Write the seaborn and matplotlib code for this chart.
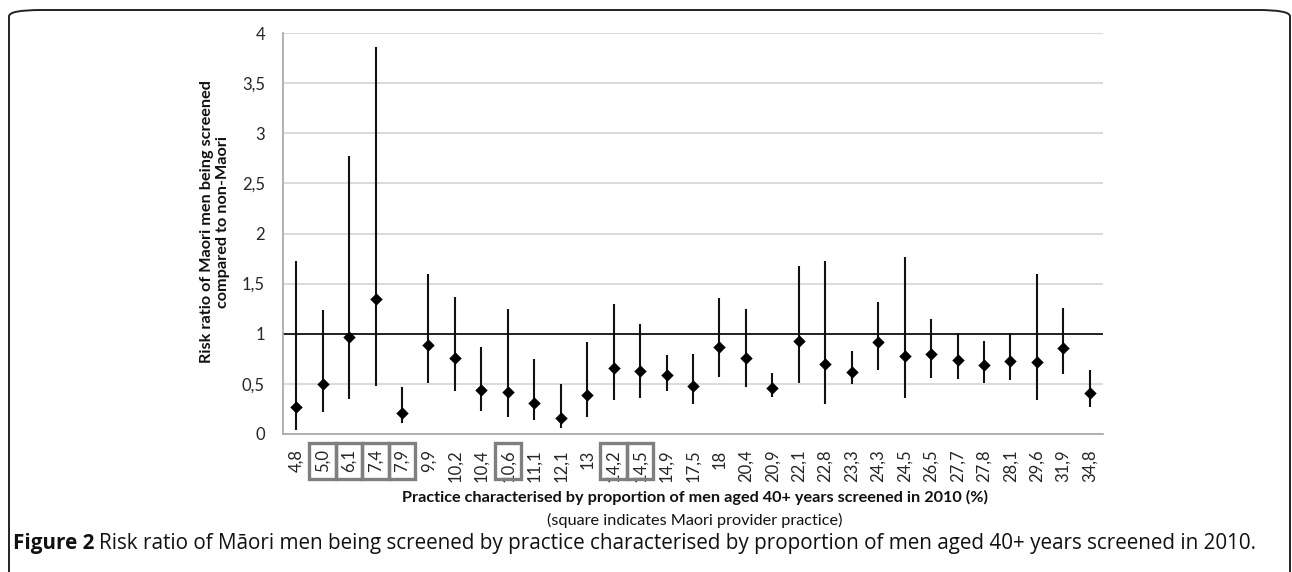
import matplotlib
matplotlib.use("Agg")
import matplotlib.pyplot as plt
import matplotlib.transforms as mtransforms
from matplotlib.patches import Rectangle, FancyBboxPatch
import seaborn as sns
import pandas as pd

categories = ["4,8", "5,0", "6,1", "7,4", "7,9", "9,9", "10,2", "10,4", "10,6", "11,1",
              "12,1", "13", "14,2", "14,5", "14,9", "17,5", "18", "20,4", "20,9", "22,1",
              "22,8", "23,3", "24,3", "24,5", "26,5", "27,7", "27,8", "28,1", "29,6", "31,9", "34,8"]
risk_ratio = [0.27, 0.50, 0.97, 1.35, 0.21, 0.89, 0.76, 0.44, 0.42, 0.31,
              0.16, 0.39, 0.66, 0.63, 0.59, 0.48, 0.87, 0.76, 0.46, 0.93,
              0.70, 0.62, 0.92, 0.78, 0.80, 0.74, 0.69, 0.73, 0.72, 0.86, 0.41]
ci_upper = [1.73, 1.24, 2.77, 3.86, 0.47, 1.60, 1.37, 0.87, 1.25, 0.75,
            0.50, 0.92, 1.30, 1.10, 0.79, 0.80, 1.36, 1.25, 0.61, 1.68,
            1.73, 0.83, 1.32, 1.77, 1.15, 1.01, 0.93, 1.01, 1.60, 1.26, 0.64]
ci_lower = [0.04, 0.22, 0.35, 0.48, 0.11, 0.51, 0.43, 0.23, 0.17, 0.14,
            0.06, 0.17, 0.34, 0.36, 0.43, 0.30, 0.57, 0.47, 0.37, 0.51,
            0.30, 0.50, 0.64, 0.36, 0.56, 0.55, 0.51, 0.54, 0.34, 0.60, 0.27]
maori_provider = ["5,0", "6,1", "7,4", "7,9", "10,6", "14,2", "14,5"]
y_ticks = [0, 0.5, 1, 1.5, 2, 2.5, 3, 3.5, 4]
y_tick_labels = ["0", "0,5", "1", "1,5", "2", "2,5", "3", "3,5", "4"]

df = pd.DataFrame({"practice": categories, "rr": risk_ratio,
                   "lo": ci_lower, "hi": ci_upper})

sns.set_theme(style="white")
plt.rcParams["font.family"] = ["Lato", "DejaVu Sans"]

W, H = 1292, 572
fig = plt.figure(figsize=(W / 100, H / 100), dpi=100)
ax = fig.add_axes([283 / W, 1 - 434 / H, (1103 - 283) / W, (434 - 33) / H])

# frame
frame = FancyBboxPatch((9 / W, -0.2), (1290 - 9) / W, (H - 10) / H + 0.2,
                       boxstyle="round,pad=0,rounding_size=0.025",
                       transform=fig.transFigure, fill=False,
                       edgecolor="#222222", linewidth=1.4, mutation_aspect=H / W)
fig.patches.append(frame)

ax.set_ylim(0, 4)
ax.set_yticks(y_ticks)
ax.set_yticklabels(y_tick_labels)
ax.yaxis.grid(True, color="#d4d4d4", linewidth=1.2)
ax.set_axisbelow(True)

ax.vlines(df["practice"], df["lo"], df["hi"], color="#111111", linewidth=1.5, zorder=3)
sns.scatterplot(data=df, x="practice", y="rr", marker="D", s=40, color="black",
                edgecolor="black", linewidth=0, ax=ax, zorder=4)
ax.set_xlim(-0.5, len(categories) - 0.5)
ax.axhline(1, color="#222222", linewidth=1.4, zorder=2)

for s in ["top", "right"]:
    ax.spines[s].set_visible(False)
for s in ["left", "bottom"]:
    ax.spines[s].set_color("#a6a6a6")
    ax.spines[s].set_linewidth(1.2)

ax.tick_params(axis="both", length=0, colors="#262626", labelsize=12)
ax.tick_params(axis="y", pad=13)
ax.tick_params(axis="x", pad=11)
for lab in ax.get_xticklabels():
    lab.set_rotation(90)
    lab.set_va("top")
    lab.set_ha("center")

ax.set_xlabel("")
ax.set_ylabel("")

# provider squares
trans = mtransforms.blended_transform_factory(ax.transData, ax.transAxes)
for p in maori_provider:
    i = categories.index(p)
    ax.add_patch(Rectangle((i - 0.5, -0.111), 1, 0.089, transform=trans, fill=False,
                           edgecolor="#7f7f7f", linewidth=2.4, clip_on=False, zorder=5))

fig.text(695 / W, 1 - 497 / H,
         "Practice characterised by proportion of men aged 40+ years screened in 2010 (%)",
         ha="center", va="center", fontsize=11.7, fontweight="bold", color="#111111")
fig.text(695 / W, 1 - 520 / H, "(square indicates Maori provider practice)",
         ha="center", va="center", fontsize=11.7, color="#111111")
fig.text(215 / W, 1 - 222 / H, "Risk ratio of Maori men being screened\ncompared to non-Maori",
         ha="center", va="center", rotation=90, fontsize=11.7, fontweight="bold",
         color="#111111", linespacing=1.2)

cap_y = 1 - 543 / H
t1 = fig.text(13 / W, cap_y, "Figure 2", ha="left", va="center", fontsize=14.9,
              fontweight="bold", family=["Open Sans", "DejaVu Sans"], color="#111111")
fig.canvas.draw()
bb = t1.get_window_extent()
fig.text((bb.x1 + 5) / W, cap_y,
         "Risk ratio of Māori men being screened by practice characterised by proportion of men aged 40+ years screened in 2010.",
         ha="left", va="center", fontsize=14.9, family=["Open Sans", "DejaVu Sans"],
         color="#111111")

fig.savefig("out.png", dpi=100)
